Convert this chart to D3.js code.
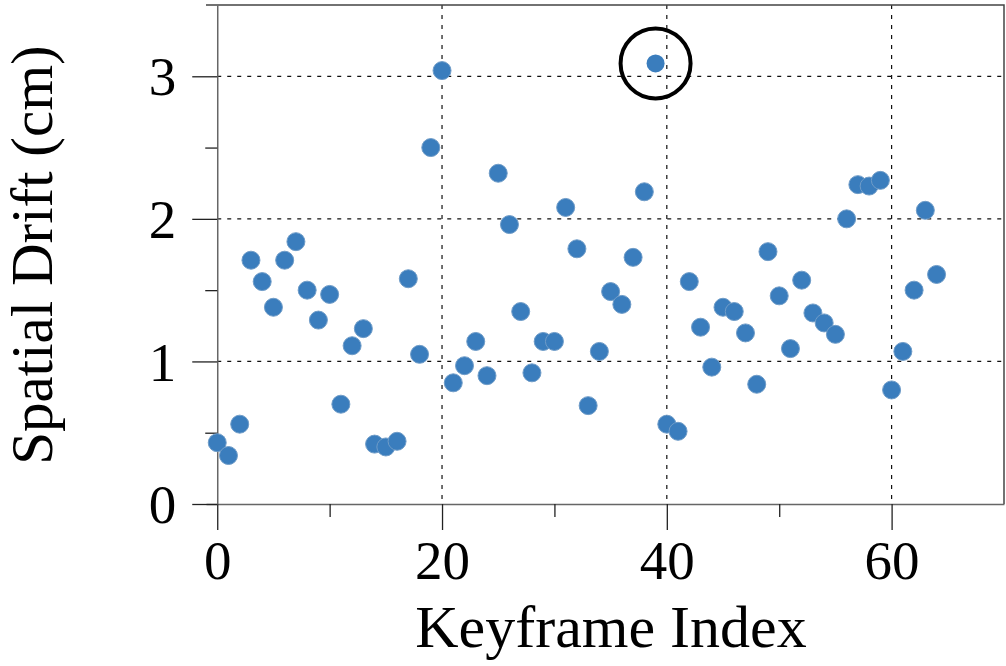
<!DOCTYPE html>
<html>
<head>
<meta charset="utf-8">
<script src="https://cdn.jsdelivr.net/npm/d3@7"></script>
<style>
  body { margin: 0; background: #fff; }
  text { font-family: "Liberation Serif", "DejaVu Serif", serif; fill: #000; }
</style>
</head>
<body>
<div id="chart"></div>
<script>
// Spatial drift per keyframe (cm)
const drift = [
  0.43, 0.34, 0.56, 1.71, 1.56, 1.38, 1.71, 1.84, 1.50, 1.29,
  1.47, 0.70, 1.11, 1.23, 0.42, 0.40, 0.44, 1.58, 1.05, 2.50,
  3.04, 0.85, 0.97, 1.14, 0.90, 2.32, 1.96, 1.35, 0.92, 1.14,
  1.14, 2.08, 1.79, 0.69, 1.07, 1.49, 1.40, 1.73, 2.19, 3.09,
  0.56, 0.51, 1.56, 1.24, 0.96, 1.38, 1.35, 1.20, 0.84, 1.77,
  1.46, 1.09, 1.57, 1.34, 1.27, 1.19, 2.00, 2.24, 2.23, 2.27,
  0.80, 1.07, 1.50, 2.06, 1.61
];
const highlightIndex = 39;

const xMajor = [0, 20, 40, 60];
const xMinor = [10, 30, 50];
const yMajor = [0, 1, 2, 3];
const yMinor = [0.5, 1.5, 2.5];

const width = 1006, height = 666;
const plotLeft = 206, plotRight = 1004, plotTop = 5, plotBottom = 504;

const svg = d3.select("#chart").append("svg")
  .attr("width", width)
  .attr("height", height);

const x = d3.scaleLinear().domain([-1, 70]).range([plotLeft, plotRight]);
const y = d3.scaleLinear().domain([0, 3.5]).range([plotBottom, plotTop]);

const points = drift.map((v, i) => ({ i: i, v: v }));

// dotted grid
const grid = svg.append("g")
  .attr("stroke", "#111")
  .attr("stroke-width", 1.2)
  .attr("stroke-dasharray", "4,6");

grid.selectAll("line.h")
  .data(yMajor.filter(d => d > 0))
  .enter().append("line")
  .attr("class", "h")
  .attr("x1", x(0)).attr("x2", plotRight)
  .attr("y1", d => y(d)).attr("y2", d => y(d));

grid.selectAll("line.v")
  .data(xMajor.filter(d => d > 0))
  .enter().append("line")
  .attr("class", "v")
  .attr("x1", d => x(d)).attr("x2", d => x(d))
  .attr("y1", plotTop).attr("y2", plotBottom);

// frame (top + right)
svg.append("path")
  .attr("d", `M${plotLeft},${plotTop}H${plotRight}V${plotBottom}`)
  .attr("fill", "none")
  .attr("stroke", "#444")
  .attr("stroke-width", 1.5);

// x axis
svg.append("g")
  .attr("transform", `translate(0,${plotBottom})`)
  .call(d3.axisBottom(x).tickValues(xMajor).tickFormat(d3.format("d"))
    .tickSize(26).tickPadding(10).tickSizeOuter(0));

svg.append("g")
  .attr("transform", `translate(0,${plotBottom})`)
  .call(d3.axisBottom(x).tickValues(xMinor).tickSize(13).tickFormat("").tickSizeOuter(0))
  .select(".domain").remove();

// y axis sits on x = 0
const yAxis = svg.append("g")
  .attr("transform", `translate(${x(0)},0)`)
  .call(d3.axisLeft(y).tickValues(yMajor).tickFormat(d3.format("d"))
    .tickSize(25).tickPadding(16).tickSizeOuter(0));

svg.append("g")
  .attr("transform", `translate(${x(0)},0)`)
  .call(d3.axisLeft(y).tickValues(yMinor).tickSize(12).tickFormat("").tickSizeOuter(0))
  .select(".domain").remove();

svg.selectAll(".domain").attr("stroke", "#666").attr("stroke-width", 1.5);
svg.selectAll(".tick line").attr("stroke", "#222").attr("stroke-width", 1.3);
svg.selectAll(".tick text")
  .style("font-family", "'Liberation Serif', serif")
  .style("font-size", "55px")
  .attr("fill", "#000");
yAxis.selectAll(".tick text").attr("dy", "0.34em");

// points
svg.append("g")
  .selectAll("circle")
  .data(points)
  .enter().append("circle")
  .attr("cx", d => x(d.i))
  .attr("cy", d => y(d.v))
  .attr("r", 9)
  .attr("fill", "#3a7dbd")
  .attr("stroke", d => d.i === highlightIndex ? "none" : "#6f9cc8")
  .attr("stroke-width", 1);

// highlight ring
const hp = points[highlightIndex];
svg.append("circle")
  .attr("cx", x(hp.i))
  .attr("cy", y(hp.v))
  .attr("r", 35)
  .attr("fill", "none")
  .attr("stroke", "#000")
  .attr("stroke-width", 4);

// axis titles
svg.append("text")
  .attr("x", 611)
  .attr("y", 647)
  .attr("text-anchor", "middle")
  .style("font-size", "60px")
  .text("Keyframe Index");

svg.append("text")
  .attr("transform", "translate(52,255) rotate(-90)")
  .attr("text-anchor", "middle")
  .style("font-size", "59px")
  .text("Spatial Drift (cm)");
</script>
</body>
</html>
